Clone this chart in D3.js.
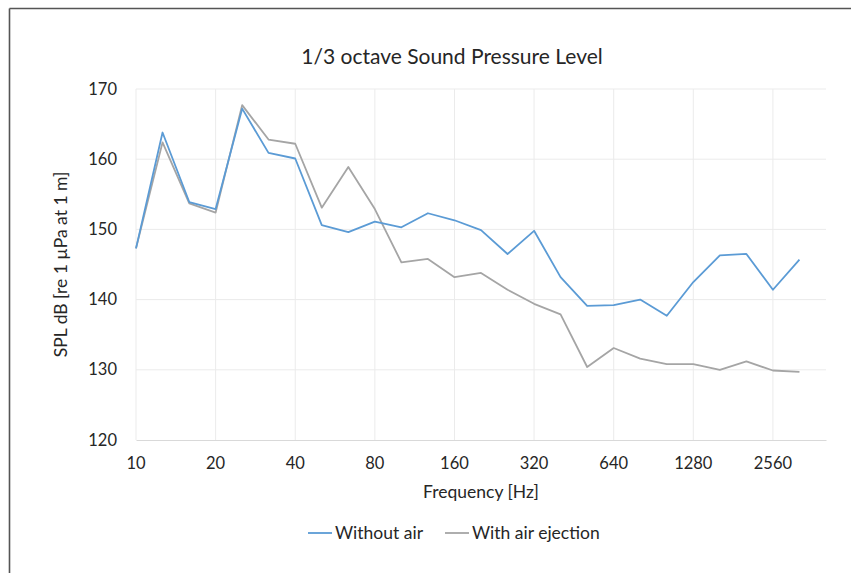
<!DOCTYPE html>
<html>
<head>
<meta charset="utf-8">
<script src="https://cdn.jsdelivr.net/npm/d3@7"></script>
<style>
  html, body { margin: 0; padding: 0; background: #fff; }
  text { font-family: Lato, "Open Sans", sans-serif; fill: #262626; }
</style>
</head>
<body>
<div id="chart"></div>
<script>
// Band centre frequencies (1/3 octave, Hz)
var freqs = [10, 12.6, 15.9, 20, 25.2, 31.7, 40, 50.4, 63.5, 80, 100.8, 127, 160, 201.6, 254, 320,
             403, 508, 640, 806, 1016, 1280, 1613, 2032, 2560, 3225]

// SPL readings, dB re 1 uPa at 1 m
var withoutAir = [147.3, 163.8, 153.9, 152.9, 167.2, 160.9, 160.1, 150.6, 149.6, 151.1, 150.3, 152.3, 151.3,
                  149.9, 146.5, 149.8, 143.2, 139.1, 139.2, 140.0, 137.7, 142.5, 146.3, 146.5, 141.4, 145.7]
var withAirEjection = [147.3, 162.4, 153.7, 152.4, 167.7, 162.8, 162.2, 153.1, 158.9, 152.9, 145.3, 145.8, 143.2,
                       143.8, 141.4, 139.4, 137.9, 130.4, 133.1, 131.6, 130.8, 130.8, 130.0, 131.2, 129.9, 129.7]

var xTicks = [10, 20, 40, 80, 160, 320, 640, 1280, 2560]
var yTicks = [120, 130, 140, 150, 160, 170]

var seriesNames = ["Without air", "With air ejection"]
var colors = ["#5b9bd5", "#a5a5a5"]

// chart dimensions
var width = 851
var height = 573
var margin = { left: 136, right: 25, top: 89, bottom: 133 }
var innerWidth = width - margin.left - margin.right
var innerHeight = height - margin.top - margin.bottom

var svg = d3.select('#chart')
            .append('svg')
            .attr('width', width)
            .attr('height', height)

// frame (only left and top edges visible in the picture)
svg.append('line')
    .attr('x1', 9.5).attr('x2', 9.5)
    .attr('y1', 8.5).attr('y2', height)
    .attr('stroke', '#555')
    .attr('stroke-width', 1.6)
svg.append('line')
    .attr('x1', 9.5).attr('x2', width)
    .attr('y1', 8.5).attr('y2', 8.5)
    .attr('stroke', '#555')
    .attr('stroke-width', 1.6)

// scales in page coordinates; log2 axis extends one band past the last point
var xScale = d3.scaleLog()
                .base(2)
                .domain([10, 10 * Math.pow(2, 26 / 3)])
                .range([margin.left, margin.left + innerWidth])

var yScale = d3.scaleLinear()
                .domain([120, 170])
                .range([margin.top + innerHeight, margin.top])

// gridlines
svg.append('g')
    .selectAll('line')
    .data(yTicks.slice(1))
    .enter()
    .append('line')
        .attr('x1', margin.left)
        .attr('x2', margin.left + innerWidth)
        .attr('y1', d => yScale(d))
        .attr('y2', d => yScale(d))
        .attr('stroke', '#ebebeb')
        .attr('stroke-width', 1)

svg.append('g')
    .selectAll('line')
    .data(xTicks)
    .enter()
    .append('line')
        .attr('x1', d => xScale(d))
        .attr('x2', d => xScale(d))
        .attr('y1', margin.top)
        .attr('y2', margin.top + innerHeight)
        .attr('stroke', '#ebebeb')
        .attr('stroke-width', 1)

// bottom axis line only
var xG = svg.append('g')
            .attr('transform', 'translate(0,' + (margin.top + innerHeight) + ')')
            .call(d3.axisBottom(xScale).tickValues([]).tickSizeOuter(0))
xG.select('.domain').attr('stroke', '#d9d9d9').attr('stroke-width', 1.2)

// tick labels
var xFormat = d3.format('d')
svg.append('g')
    .selectAll('text')
    .data(xTicks)
    .enter()
    .append('text')
        .attr('x', d => xScale(d))
        .attr('y', margin.top + innerHeight + 29)
        .attr('text-anchor', 'middle')
        .attr('font-size', 16.5)
        .text(d => xFormat(d))

svg.append('g')
    .selectAll('text')
    .data(yTicks)
    .enter()
    .append('text')
        .attr('x', margin.left - 19)
        .attr('y', d => yScale(d) + 5.5)
        .attr('text-anchor', 'end')
        .attr('font-size', 16.5)
        .text(d => d)

// lines
var series = [withoutAir, withAirEjection]
var line = d3.line()
                .x((d, i) => xScale(freqs[i]))
                .y(d => yScale(d))

// grey first so the blue line sits on top
svg.selectAll('.series')
    .data([1, 0])
    .enter()
    .append('path')
        .attr('class', 'series')
        .attr('d', k => line(series[k]))
        .attr('fill', 'none')
        .attr('stroke', k => colors[k])
        .attr('stroke-width', 1.8)
        .attr('stroke-linejoin', 'round')

// title and axis labels
svg.append('text')
    .attr('x', 452)
    .attr('y', 64)
    .attr('text-anchor', 'middle')
    .attr('font-size', 21)
    .text('1/3 octave Sound Pressure Level')

svg.append('text')
    .attr('x', margin.left + innerWidth / 2)
    .attr('y', 498)
    .attr('text-anchor', 'middle')
    .attr('font-size', 17.5)
    .text('Frequency [Hz]')

svg.append('text')
    .attr('transform', 'translate(67,' + (margin.top + innerHeight / 2) + ')rotate(-90)')
    .attr('text-anchor', 'middle')
    .attr('font-size', 17.5)
    .text('SPL dB [re 1 µPa at 1 m]')

// legend
var legendX = [308, 445]
var legend = svg.selectAll('.legend')
                .data(seriesNames)
                .enter()
                .append('g')
                    .attr('class', 'legend')
                    .attr('transform', (d, i) => 'translate(' + legendX[i] + ',533)')

legend.append('line')
    .attr('x1', 0)
    .attr('x2', 24)
    .attr('stroke', (d, i) => colors[i])
    .attr('stroke-width', 1.8)

legend.append('text')
    .attr('x', 27)
    .attr('y', 6)
    .attr('font-size', 17.5)
    .text(d => d)
</script>
</body>
</html>
